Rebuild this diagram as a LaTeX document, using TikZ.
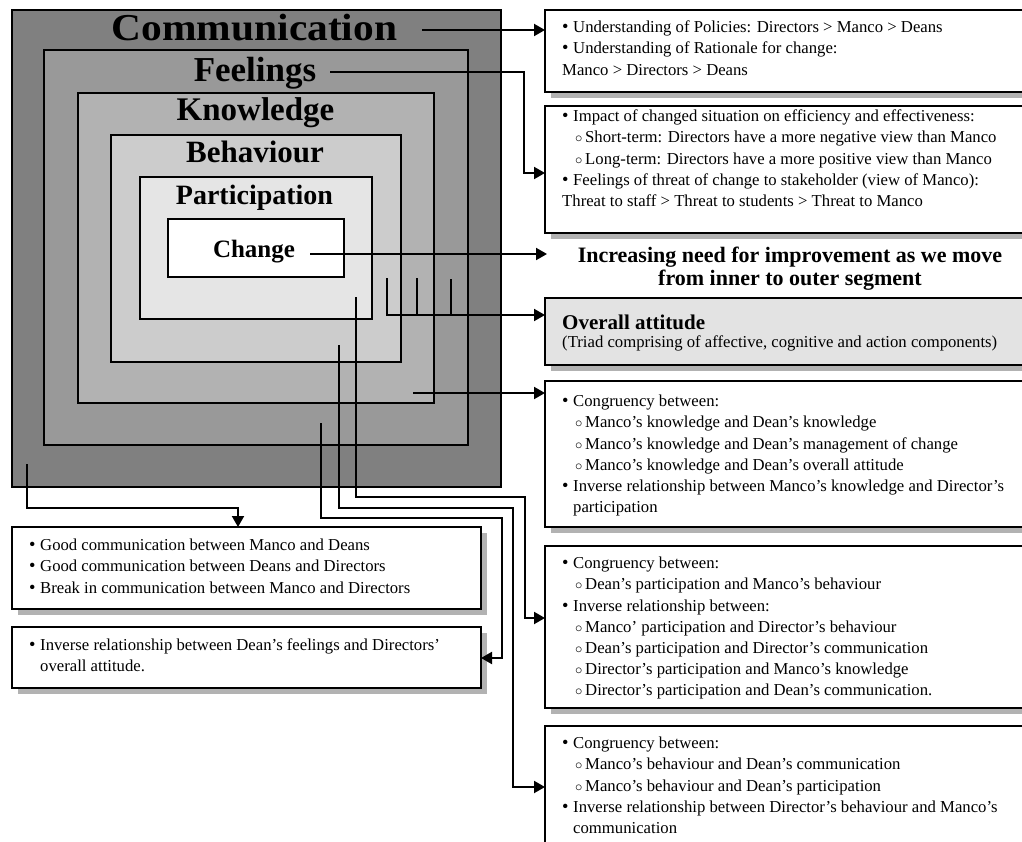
\documentclass[tikz,border=0pt]{standalone}
\usepackage{fontspec}
\usepackage{graphicx}
\setmainfont{Liberation Serif}
\usetikzlibrary{arrows.meta}
\definecolor{gA}{gray}{0.5}
\definecolor{gB}{gray}{0.6}
\definecolor{gC}{gray}{0.7}
\definecolor{gD}{gray}{0.8}
\definecolor{gE}{gray}{0.9}
\definecolor{boxgray}{gray}{0.89}
\definecolor{shadowgray}{gray}{0.7}
\newcommand{\bodyfont}{\fontsize{16.7}{21.2}\selectfont}
\newcommand{\bl}{\makebox[11pt][l]{\scalebox{1.1}{\textbullet}}}
\newcommand{\sbl}{\hspace*{13pt}\makebox[10pt][l]{\scalebox{0.85}{$\circ$}}}
\newcommand{\ind}{\hspace*{11pt}}
\begin{document}
\begin{tikzpicture}[x=1pt,y=-1pt,
  ring/.style={draw=black, line width=2pt, outer sep=0pt, inner sep=0pt},
  lab/.style={anchor=base, inner sep=0pt},
  conn/.style={line width=2pt},
  arr/.style={line width=2pt, -{Triangle[length=11pt,width=12pt]}},
  infobox/.style={draw=black, line width=2pt, fill=white, anchor=north west, outer sep=0pt, inner sep=0pt,
    preaction={draw=none, fill=shadowgray, transform canvas={xshift=6pt, yshift=-6pt}}},
  txt/.style={anchor=north west, inner sep=0pt, align=left, font=\bodyfont}
]
\useasboundingbox (0,0) rectangle (1022,842);
\clip (0,0) rectangle (1022,842);
% nested rings
\node[ring, fill=gA, minimum width=489pt, minimum height=477pt] (r1) at (256.5,248.5) {};
\node[ring, fill=gB, minimum width=424pt, minimum height=395pt] (r2) at (256,247.5) {};
\node[ring, fill=gC, minimum width=356pt, minimum height=310pt] (r3) at (256,248) {};
\node[ring, fill=gD, minimum width=290pt, minimum height=227pt] (r4) at (256,248.5) {};
\node[ring, fill=gE, minimum width=232pt, minimum height=142pt] (r5) at (256,248) {};
\node[ring, fill=white, minimum width=176pt, minimum height=58pt] (r6) at (256,248) {};
% ring labels
\node[lab, font=\fontsize{38}{38}\selectfont\bfseries] (tComm) at (254.5,40.5) {\scalebox{1.09}[1]{Communication}};
\node[lab, font=\fontsize{35}{35}\selectfont\bfseries] (tFeel) at (255,82) {Feelings};
\node[lab, font=\fontsize{33}{33}\selectfont\bfseries] (tKnow) at (255.5,121) {Knowledge};
\node[lab, font=\fontsize{31}{31}\selectfont\bfseries] (tBeh) at (255,163) {Behaviour};
\node[lab, font=\fontsize{28}{28}\selectfont\bfseries] (tPart) at (254.5,205) {Participation};
\node[lab, font=\fontsize{25}{25}\selectfont\bfseries] (tChange) at (254,258) {Change};
% boxes
\node[infobox, minimum width=490pt, minimum height=82pt] (bA) at (545,10) {};
\node[infobox, minimum width=490pt, minimum height=127pt] (bB) at (545,106) {};
\node[infobox, fill=boxgray, minimum width=490pt, minimum height=67pt] (bC) at (545,298) {};
\node[infobox, minimum width=490pt, minimum height=146pt] (bD) at (545,381) {};
\node[infobox, minimum width=490pt, minimum height=162pt] (bE) at (545,546) {};
\node[infobox, minimum width=490pt, minimum height=125pt] (bF) at (545,726) {};
\node[infobox, minimum width=469pt, minimum height=82pt] (bG) at (12,527) {};
\node[infobox, minimum width=469pt, minimum height=61pt] (bH) at (12,627) {};
% box texts
\node[txt] (tA) at (562,17.7) {\strut\bl Understanding of Policies: Directors > Manco > Deans\\
\bl Understanding of Rationale for change:\\
Manco > Directors > Deans};
\node[txt] (tB) at (562,106.7) {\strut\bl Impact of changed situation on efficiency and effectiveness:\\
\sbl Short-term: Directors have a more negative view than Manco\\
\sbl Long-term: Directors have a more positive view than Manco\\
\bl Feelings of threat of change to stakeholder (view of Manco):\\
Threat to staff > Threat to students > Threat to Manco};
\node[anchor=north, inner sep=0pt, align=center, font=\fontsize{22}{23}\selectfont\bfseries] (tInc) at (790,245.9)
  {\strut Increasing need for improvement as we move\\from inner to outer segment};
\node[anchor=base west, inner sep=0pt, font=\fontsize{21}{21}\selectfont\bfseries] (tC1) at (562,329) {Overall attitude};
\node[anchor=base west, inner sep=0pt, font=\bodyfont] (tC2) at (562,347) {(Triad comprising of affective, cognitive and action components)};
\node[txt] (tD) at (562,391.7) {\strut\bl Congruency between:\\
\sbl Manco's knowledge and Dean's knowledge\\
\sbl Manco's knowledge and Dean's management of change\\
\sbl Manco's knowledge and Dean's overall attitude\\
\bl Inverse relationship between Manco's knowledge and Director's\\
\ind participation};
\node[txt] (tE) at (562,553.7) {\strut\bl Congruency between:\\
\sbl Dean's participation and Manco's behaviour\\
\bl Inverse relationship between:\\
\sbl Manco' participation and Director's behaviour\\
\sbl Dean's participation and Director's communication\\
\sbl Director's participation and Manco's knowledge\\
\sbl Director's participation and Dean's communication.};
\node[txt] (tF) at (562,733.7) {\strut\bl Congruency between:\\
\sbl Manco's behaviour and Dean's communication\\
\sbl Manco's behaviour and Dean's participation\\
\bl Inverse relationship between Director's behaviour and Manco's\\
\ind communication};
\node[txt] (tG) at (29,535.7) {\strut\bl Good communication between Manco and Deans\\
\bl Good communication between Deans and Directors\\
\bl Break in communication between Manco and Directors};
\node[txt] (tH) at (29,635.7) {\strut\bl Inverse relationship between Dean's feelings and Directors'\\
\ind overall attitude.};
% connector start points
\coordinate (cComm) at (422,30);
\coordinate (cFeel) at (330,72);
\coordinate (cChange) at (310,254);
\coordinate (cInc) at (547,254);
\coordinate (k1) at (387,278);
\coordinate (k2) at (417,278);
\coordinate (k3) at (451,279);
\coordinate (cKnow) at (413,393);
\coordinate (cComm2) at (27,464);
\coordinate (cG) at (238,508);
\coordinate (cPart) at (356,297);
\coordinate (cBeh) at (339,345);
\coordinate (cFeel2) at (321,423);
% connectors
\draw[arr] (cComm) -- (cComm -| bA.west);
\draw[arr] (cFeel) -- (524,72) -- (524,173) -- (bB.west |- 0,173);
\draw[arr] (cChange) -- (cInc);
\draw[conn] (k2) -- (k2 |- 0,315);
\draw[conn] (k3) -- (k3 |- 0,315);
\draw[arr] (k1) -- (387,315) -- (bC.west |- 0,315);
\draw[arr] (cKnow) -- (cKnow -| bD.west);
\draw[arr] (cComm2) -- (27,508) -- (cG) -- (cG |- bG.north);
\draw[arr] (cPart) -- (356,497) -- (525,497) -- (525,618) -- (bE.west |- 0,618);
\draw[arr] (cBeh) -- (339,508) -- (513,508) -- (513,787) -- (bF.west |- 0,787);
\draw[arr] (cFeel2) -- (321,518) -- (502,518) -- (502,658) -- (bH.east |- 0,658);
\end{tikzpicture}
\end{document}
